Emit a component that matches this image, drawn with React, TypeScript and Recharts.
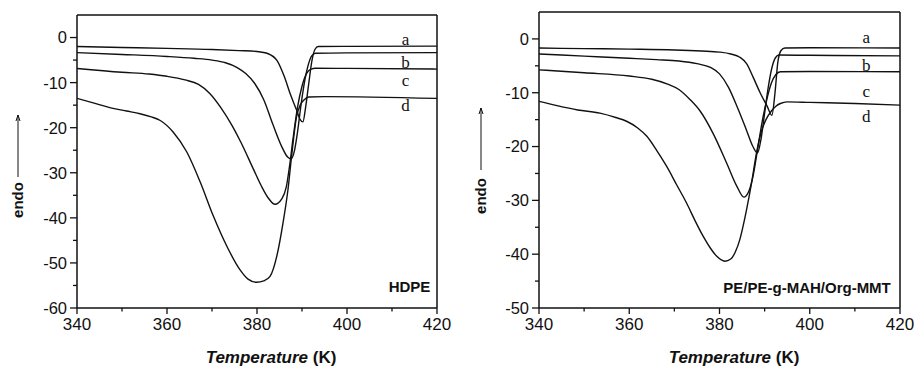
import React from 'react'
import { LineChart, Line, XAxis, YAxis, ReferenceLine, ReferenceDot } from 'recharts'

type Pt = [number, number]

// temperature axis, K
const tempTicks = [340, 350, 360, 370, 380, 390, 400, 410, 420]
const tempLabels = [340, 360, 380, 400, 420]

// heat flow axis ticks
const hdpeTicks = [-60, -55, -50, -45, -40, -35, -30, -25, -20, -15, -10, -5, 0]
const nanoTicks = [-50, -45, -40, -35, -30, -25, -20, -15, -10, -5, 0]

const curveNames = ['a', 'b', 'c', 'd']

// HDPE melting curves [T, heat flow]
const hdpeA: Pt[] = [
  [340, -2.0], [350, -2.2], [360, -2.4], [370, -2.65], [376, -2.9], [380, -3.1],
  [382.5, -3.6], [384.5, -5.2], [386, -8.5], [387.5, -12.8], [388.8, -16.1],
  [389.6, -18.2], [390.2, -18.7], [390.8, -15.5], [391.5, -10.2], [392.2, -5.2],
  [392.9, -2.6], [393.6, -2.0], [400, -1.95], [420, -1.9],
]
const hdpeB: Pt[] = [
  [340, -3.35], [350, -3.75], [360, -4.2], [366, -4.6], [370, -5.0], [373, -5.6],
  [375.5, -6.6], [377.5, -8.0], [379.5, -10.2], [381.5, -13.8], [383.5, -19.2],
  [385.5, -24.2], [386.8, -26.5], [387.6, -26.9], [388.3, -25.2], [389, -21],
  [389.8, -14.8], [390.6, -9.6], [391.4, -6.0], [392.2, -4.0], [393, -3.5],
  [400, -3.4], [420, -3.35],
]
const hdpeC: Pt[] = [
  [340, -6.85], [350, -7.7], [356, -8.1], [360, -8.6], [364, -9.4], [367, -10.4],
  [369.5, -12.4], [372, -15.6], [374.5, -19.6], [376.5, -23.4], [379.2, -29.2],
  [381, -33.0], [382.5, -35.6], [384, -37.0], [385.5, -35.8], [386.5, -33.2],
  [387.3, -28.0], [388, -22.5], [389, -15.5], [390, -10.8], [391, -8.0], [392, -7.0],
  [393, -6.8], [400, -6.85], [420, -7.0],
]
const hdpeD: Pt[] = [
  [340, -13.5], [344, -14.6], [348, -15.7], [351, -16.3], [354, -16.9], [356.5, -17.6],
  [358.5, -18.4], [361.4, -21.0], [364.4, -25.4], [367.4, -32.1], [370.3, -39.6],
  [373.3, -46.3], [376.2, -51.5], [378, -53.6], [379.9, -54.3], [381.5, -54.0],
  [382.9, -53.0], [384.4, -48.5], [385.8, -41.0], [386.9, -33.6], [387.7, -26.2],
  [388.8, -17.5], [389.6, -15.0], [390.5, -13.8], [391.5, -13.2], [395, -13.1],
  [420, -13.5],
]

// PE/PE-g-MAH/Org-MMT melting curves [T, heat flow]
const nanoA: Pt[] = [
  [340, -1.7], [350, -1.8], [360, -1.9], [370, -2.05], [376, -2.25], [380, -2.45],
  [382.5, -2.8], [384.5, -3.4], [386, -4.6], [387.5, -7.2], [389, -10.0],
  [390.5, -12.4], [391.6, -14.2], [392.3, -10], [392.9, -4.5], [393.6, -2.2],
  [394.5, -1.7], [400, -1.65], [420, -1.7],
]
const nanoB: Pt[] = [
  [340, -2.8], [350, -3.2], [360, -3.6], [366, -3.85], [371, -4.1], [375, -4.6],
  [378, -5.3], [380, -6.5], [382, -9.0], [384, -12.8], [386, -17.0], [387.4, -20.0],
  [388.4, -21.2], [389.2, -18.6], [390, -13.8], [390.8, -9.0], [391.6, -5.4],
  [392.4, -3.5], [393.2, -3.0], [400, -3.05], [420, -3.15],
]
const nanoC: Pt[] = [
  [340, -5.75], [350, -6.3], [360, -6.9], [365, -7.5], [368.5, -8.4], [371, -9.4],
  [373.5, -11.3], [375.7, -13.4], [378.6, -17.6], [381.6, -23.1], [383.8, -27.3],
  [385.4, -29.4], [386.5, -28.3], [387.5, -25.2], [388.5, -20.2], [389.5, -15.2],
  [390.5, -11.2], [391.5, -8.2], [392.5, -6.6], [393.5, -6.1], [400, -6.05],
  [420, -6.1],
]
const nanoD: Pt[] = [
  [340, -11.6], [344, -12.4], [348.6, -13.2], [353.5, -13.8], [357, -14.6], [359.4, -15.3],
  [361.8, -16.5], [363.9, -18.1], [366, -20.6], [368.3, -23.7], [370.5, -27.1],
  [372.7, -30.5], [374.6, -33.8], [376.4, -36.7], [378, -38.9], [379.4, -40.4],
  [381.2, -41.3], [382.5, -40.9], [383.5, -39.6], [384.5, -37.3], [385.3, -34.5],
  [386, -31.7], [387.1, -26.8], [388.2, -21.2], [389.2, -17.4], [390.3, -15.0],
  [391.5, -13.4], [392.5, -12.5], [393.5, -12.0], [395, -11.7], [400, -11.8],
  [410, -12.0], [420, -12.3],
]

// where the a–d tags sit, in data units
const hdpeTagX = 413
const hdpeTagY = [-0.3, -5.4, -9.4, -15.0]
const nanoTagX = 412.5
const nanoTagY = [0.45, -4.9, -9.6, -14.4]

const INK = '#111'
const SANS = '"Liberation Sans", Arial, Helvetica, sans-serif'
const SERIF = '"Liberation Serif", "Times New Roman", serif'

const XTick = (props: any) => {
  const { x, y, payload } = props
  const major = tempLabels.includes(payload.value)
  return (
    <g>
      <line x1={x} x2={x} y1={y} y2={y + (major ? 6 : 3.5)} stroke={INK} strokeWidth={1.3} />
      {major && (
        <text x={x} y={y + 22} textAnchor="middle" fontFamily={SANS} fontSize={17} fill={INK}>
          {payload.value}
        </text>
      )}
    </g>
  )
}

const YTick = (props: any) => {
  const { x, y, payload } = props
  const major = payload.value % 10 === 0
  return (
    <g>
      <line x1={x - (major ? 7 : 4)} x2={x} y1={y} y2={y} stroke={INK} strokeWidth={1.3} />
      {major && (
        <text x={x - 10} y={y} dy="0.36em" textAnchor="end" fontFamily={SANS} fontSize={16.5} fill={INK}>
          {payload.value}
        </text>
      )}
    </g>
  )
}

interface PanelProps {
  series: Pt[][]
  yMin: number
  yTicks: number[]
  tagX: number
  tagY: number[]
  title: string
  titleX: number
  titleY: number
  margin: { top: number; right: number; bottom: number; left: number }
  endoX: number
  endoY: number
  arrowTop: number
  arrowBottom: number
  xTitleX: number
}

function Panel(p: PanelProps) {
  const yMax = 5
  return (
    <LineChart width={457} height={368} margin={p.margin}>
      <XAxis
        dataKey="t"
        type="number"
        domain={[340, 420]}
        ticks={tempTicks}
        interval={0}
        allowDataOverflow
        height={30}
        tickSize={0}
        tickMargin={0}
        tickLine={false}
        axisLine={{ stroke: INK, strokeWidth: 1.5 }}
        tick={<XTick />}
        label={{
          content: () => (
            <text x={p.xTitleX} y={363} textAnchor="middle" fontFamily={SANS} fontSize={17} fontWeight="bold" fill={INK}>
              <tspan fontStyle="italic">Temperature</tspan>
              <tspan> (K)</tspan>
            </text>
          ),
        }}
      />
      <YAxis
        type="number"
        domain={[p.yMin, yMax]}
        ticks={p.yTicks}
        interval={0}
        allowDataOverflow
        width={60}
        tickSize={0}
        tickMargin={0}
        tickLine={false}
        axisLine={{ stroke: INK, strokeWidth: 1.5 }}
        tick={<YTick />}
        label={{
          content: () => (
            <g>
              <text
                x={p.endoX}
                y={p.endoY}
                transform={`rotate(-90 ${p.endoX} ${p.endoY})`}
                textAnchor="middle"
                dy="0.36em"
                fontFamily={SANS}
                fontSize={15}
                fontWeight="bold"
                fill={INK}
              >
                endo
              </text>
              <line x1={p.endoX} x2={p.endoX} y1={p.arrowBottom} y2={p.arrowTop} stroke={INK} strokeWidth={1} />
              <path
                d={`M${p.endoX - 2},${p.arrowTop + 6} L${p.endoX},${p.arrowTop} L${p.endoX + 2},${p.arrowTop + 6}`}
                fill="none"
                stroke={INK}
                strokeWidth={1}
              />
            </g>
          ),
        }}
      />
      {/* closing frame on top and right */}
      <ReferenceLine y={yMax} stroke={INK} strokeWidth={1.5} />
      <ReferenceLine x={420} stroke={INK} strokeWidth={1.5} />
      {p.series.map((s, i) => (
        <Line
          key={curveNames[i]}
          data={s.map(([t, v]) => ({ t, v }))}
          dataKey="v"
          type="monotone"
          stroke={INK}
          strokeWidth={1.4}
          dot={false}
          isAnimationActive={false}
        />
      ))}
      {curveNames.map((n, i) => (
        <ReferenceDot
          key={'tag' + n}
          x={p.tagX}
          y={p.tagY[i]}
          r={1}
          fill="none"
          stroke="none"
          label={{ value: n, position: 'center', fontFamily: SERIF, fontSize: 17, fill: INK }}
        />
      ))}
      <ReferenceDot
        x={p.titleX}
        y={p.titleY}
        r={1}
        fill="none"
        stroke="none"
        label={{ value: p.title, position: 'center', fontFamily: SANS, fontSize: 15, fontWeight: 'bold', fill: INK }}
      />
    </LineChart>
  )
}

export default function App() {
  return (
    <div style={{ position: 'absolute', left: 0, top: 0, width: 914, height: 368, background: '#fff' }}>
      <div style={{ position: 'absolute', left: 0, top: 0 }}>
        <Panel
          series={[hdpeA, hdpeB, hdpeC, hdpeD]}
          yMin={-60}
          yTicks={hdpeTicks}
          tagX={hdpeTagX}
          tagY={hdpeTagY}
          title="HDPE"
          titleX={413.9}
          titleY={-55.3}
          margin={{ top: 15, right: 20, bottom: 30, left: 17 }}
          endoX={18}
          endoY={200}
          arrowTop={115}
          arrowBottom={177}
          xTitleX={271}
        />
      </div>
      <div style={{ position: 'absolute', left: 457, top: 0 }}>
        <Panel
          series={[nanoA, nanoB, nanoC, nanoD]}
          yMin={-50}
          yTicks={nanoTicks}
          tagX={nanoTagX}
          tagY={nanoTagY}
          title="PE/PE-g-MAH/Org-MMT"
          titleX={399.4}
          titleY={-46.2}
          margin={{ top: 12, right: 14, bottom: 30, left: 22 }}
          endoX={24}
          endoY={196}
          arrowTop={108}
          arrowBottom={170}
          xTitleX={277}
        />
      </div>
    </div>
  )
}
